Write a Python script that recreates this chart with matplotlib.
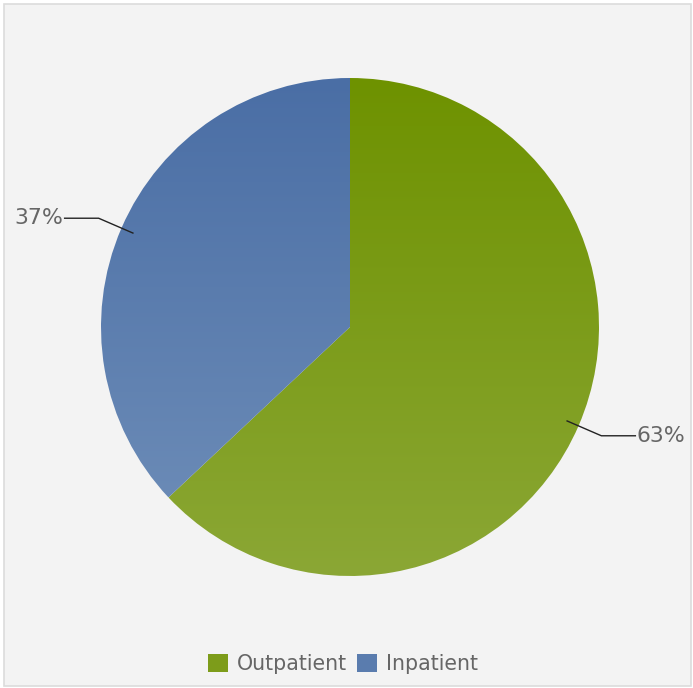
import numpy as np
import matplotlib.pyplot as plt
from matplotlib.patches import Rectangle, Patch
from matplotlib.colors import LinearSegmentedColormap

labels = ['Outpatient', 'Inpatient']
shares = [63, 37]
top_colors = ['#6e9200', '#4a6ea5']
bottom_colors = ['#8ba735', '#6a8ab6']

W, H = 693, 688
fig = plt.figure(figsize=(W / 100, H / 100), dpi=100, facecolor='white')
ax = fig.add_axes([0, 0, 1, 1])

# panel background
ax.add_patch(Rectangle((4, 2), W - 6, H - 6, facecolor='#f3f3f3', edgecolor='#dcdcdc', lw=1.2, zorder=0))

cx, cy, r = 350, 361, 249
wedges, _ = ax.pie(shares, startangle=90, counterclock=False, center=(cx, cy), radius=r,
                   frame=True, wedgeprops=dict(linewidth=0))
ax.set_xlim(0, W)
ax.set_ylim(0, H)
ax.axis('off')

# vertical gradient inside each wedge
for w, c0, c1 in zip(wedges, top_colors, bottom_colors):
    w.set_facecolor('none')
    x0, y0, x1, y1 = w.get_window_extent().extents
    bb = ax.transData.inverted().transform([[x0, y0], [x1, y1]])
    cmap = LinearSegmentedColormap.from_list('g', [c0, c1])
    grad = np.linspace(0, 1, 256).reshape(-1, 1)
    im = ax.imshow(grad, cmap=cmap, extent=(bb[0][0], bb[1][0], bb[0][1], bb[1][1]),
                   origin='upper', aspect='auto', zorder=1)
    im.set_clip_path(w)

# percentage labels with elbow leader lines
start = 90
for s in shares:
    mid = np.deg2rad(start - s * 360 / 100 / 2)
    start -= s * 360 / 100
    p0 = (cx + 0.95 * r * np.cos(mid), cy + 0.95 * r * np.sin(mid))
    p1 = (cx + 1.1 * r * np.cos(mid), cy + 1.1 * r * np.sin(mid))
    side = 1 if np.cos(mid) > 0 else -1
    p2 = (p1[0] + side * 34, p1[1])
    ax.plot([p0[0], p1[0], p2[0]], [p0[1], p1[1], p2[1]], color='#222222', lw=1, zorder=3)
    ax.text(p2[0] + side * 1, p2[1], f'{s}%', ha='left' if side > 0 else 'right', va='center',
            fontsize=15.8, color='#666666', zorder=3)

handles = [Patch(facecolor=c, edgecolor='none') for c in ['#7d9c1a', '#5a7cae']]
ax.legend(handles, labels, loc='center', bbox_to_anchor=(0.495, 0.035), ncol=2, frameon=False,
          fontsize=14.8, labelcolor='#666666', handlelength=0.95, handleheight=0.95,
          handletextpad=0.45, columnspacing=0.5)

fig.savefig('out.png', dpi=100)
